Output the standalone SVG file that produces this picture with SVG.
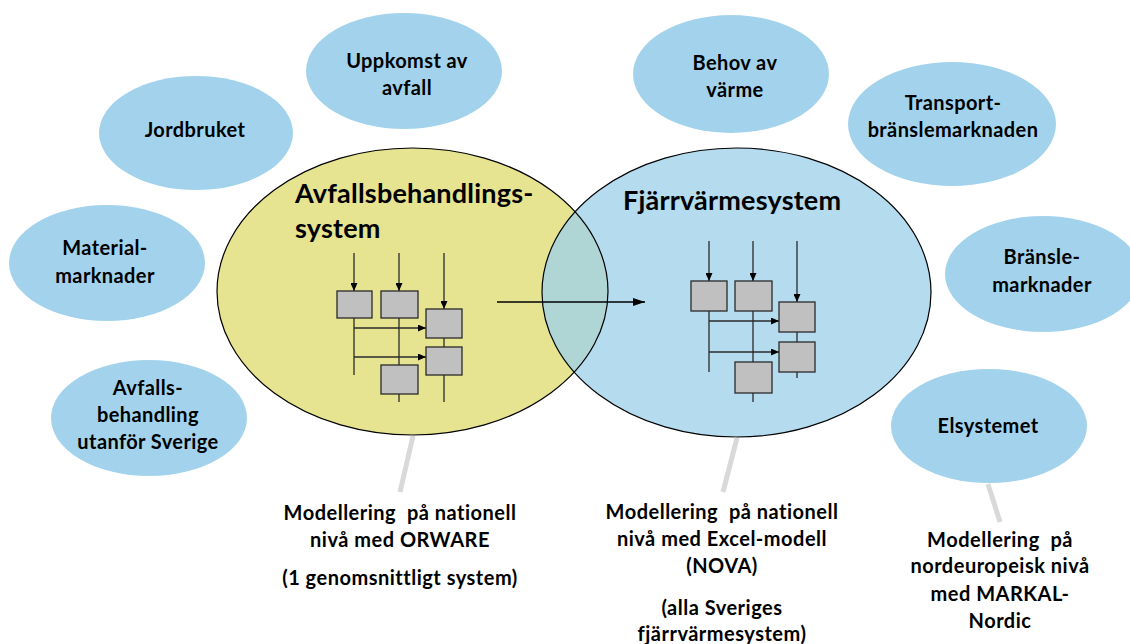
<svg xmlns="http://www.w3.org/2000/svg" width="1130" height="644" viewBox="0 0 1130 644">
  <defs>
    <style>
      .bubble { fill: #a3d3ec; }
      .lbl { font-family: Lato, "Liberation Sans", sans-serif; font-weight: bold; font-size: 20px; letter-spacing: 0.4px; fill: #000; text-anchor: middle; }
      .title { font-family: Lato, "Liberation Sans", sans-serif; font-weight: bold; font-size: 27px; letter-spacing: 0.2px; fill: #000; }
      .note { font-family: Lato, "Liberation Sans", sans-serif; font-weight: bold; font-size: 20px; letter-spacing: 0.5px; fill: #000; text-anchor: middle; white-space: pre; }
      .flow { stroke: #2a2a2a; stroke-width: 1.3; fill: none; }
      .box { fill: #c0c0c0; stroke: #2a2a2a; stroke-width: 1.3; }
      .lead { stroke: #d9d9d9; stroke-width: 5; fill: none; }
      .edge { fill: none; stroke: #000; stroke-width: 1.2; }
    </style>
    <marker id="head" viewBox="0 0 8 7" refX="8" refY="3.5" markerWidth="8" markerHeight="7" markerUnits="userSpaceOnUse" orient="auto">
      <path d="M0,0 L8,3.5 L0,7 z" fill="#000"/>
    </marker>
    <marker id="bighead" viewBox="0 0 12 8" refX="12" refY="4" markerWidth="12" markerHeight="8" markerUnits="userSpaceOnUse" orient="auto">
      <path d="M0,0 L12,4 L0,8 z" fill="#000"/>
    </marker>
    <ellipse id="waste-edge" cx="412.5" cy="291.5" rx="195.5" ry="143.5"/>
  </defs>

  <rect width="1130" height="644" fill="#fff"/>

  <!-- surrounding context bubbles -->
  <g id="uppkomst">
    <ellipse class="bubble" cx="404" cy="71" rx="98" ry="58"/>
    <text class="lbl" x="407" y="68">Uppkomst av</text>
    <text class="lbl" x="407" y="95">avfall</text>
  </g>
  <g id="jordbruket">
    <ellipse class="bubble" cx="196" cy="133" rx="97" ry="57"/>
    <text class="lbl" x="195" y="137">Jordbruket</text>
  </g>
  <g id="materialmarknader">
    <ellipse class="bubble" cx="107" cy="263" rx="98" ry="58"/>
    <text class="lbl" x="105" y="255">Material-</text>
    <text class="lbl" x="105" y="283">marknader</text>
  </g>
  <g id="avfallsbehandling-utland">
    <ellipse class="bubble" cx="149" cy="418" rx="98" ry="58"/>
    <text class="lbl" x="148" y="395">Avfalls-</text>
    <text class="lbl" x="148" y="422">behandling</text>
    <text class="lbl" x="148" y="449">utanför Sverige</text>
  </g>
  <g id="behov">
    <ellipse class="bubble" cx="731" cy="74" rx="98" ry="59"/>
    <text class="lbl" x="735" y="70">Behov av</text>
    <text class="lbl" x="735" y="97">värme</text>
  </g>
  <g id="transport">
    <ellipse class="bubble" cx="952" cy="124" rx="104" ry="62"/>
    <text class="lbl" x="953" y="110">Transport-</text>
    <text class="lbl" x="953" y="137">bränslemarknaden</text>
  </g>
  <g id="bransle">
    <ellipse class="bubble" cx="1043" cy="274" rx="98" ry="58"/>
    <text class="lbl" x="1042" y="264">Bränsle-</text>
    <text class="lbl" x="1042" y="292">marknader</text>
  </g>
  <g id="elsystemet">
    <ellipse class="bubble" cx="989" cy="426" rx="98" ry="57"/>
    <text class="lbl" x="988" y="433">Elsystemet</text>
  </g>

  <!-- waste management system -->
  <g id="avfallssystem">
    <use href="#waste-edge" fill="#e6e391"/>
    <text class="title" x="295" y="203">Avfallsbehandlings-</text>
    <text class="title" x="295" y="238">system</text>
  </g>

  <!-- district heating system (translucent, overlaps the waste system) -->
  <g id="fjarrvarmesystem">
    <ellipse cx="736.5" cy="292.5" rx="194.5" ry="144.5" fill="#9fd0ea" fill-opacity="0.77" stroke="#000" stroke-width="1.2"/>
    <text class="title" x="623" y="210">Fjärrvärmesystem</text>
  </g>
  <use href="#waste-edge" class="edge"/>

  <!-- process schematic inside the waste system -->
  <g id="orware-schema">
    <line class="flow" x1="354" y1="253" x2="354" y2="291" marker-end="url(#head)"/>
    <line class="flow" x1="399" y1="253" x2="399" y2="291" marker-end="url(#head)"/>
    <line class="flow" x1="444" y1="253" x2="444" y2="309" marker-end="url(#head)"/>
    <line class="flow" x1="354" y1="318" x2="354" y2="375"/>
    <line class="flow" x1="399" y1="318" x2="399" y2="402"/>
    <line class="flow" x1="444" y1="338" x2="444" y2="347"/>
    <line class="flow" x1="444" y1="375" x2="444" y2="402"/>
    <line class="flow" x1="354" y1="328" x2="426" y2="328" marker-end="url(#head)"/>
    <line class="flow" x1="354" y1="357" x2="426" y2="357" marker-end="url(#head)"/>
    <rect class="box" x="337" y="291" width="35" height="27"/>
    <rect class="box" x="381" y="291" width="37" height="27"/>
    <rect class="box" x="426" y="309" width="36" height="29"/>
    <rect class="box" x="426" y="347" width="36" height="28"/>
    <rect class="box" x="381" y="365" width="37" height="29"/>
  </g>

  <!-- process schematic inside the district heating system -->
  <g id="nova-schema">
    <line class="flow" x1="709" y1="241" x2="709" y2="281" marker-end="url(#head)"/>
    <line class="flow" x1="753" y1="241" x2="753" y2="281" marker-end="url(#head)"/>
    <line class="flow" x1="797" y1="241" x2="797" y2="302" marker-end="url(#head)"/>
    <line class="flow" x1="709" y1="311" x2="709" y2="372"/>
    <line class="flow" x1="753" y1="311" x2="753" y2="402"/>
    <line class="flow" x1="797" y1="332" x2="797" y2="342"/>
    <line class="flow" x1="797" y1="372" x2="797" y2="378"/>
    <line class="flow" x1="709" y1="321" x2="779" y2="321" marker-end="url(#head)"/>
    <line class="flow" x1="709" y1="352" x2="779" y2="352" marker-end="url(#head)"/>
    <rect class="box" x="691" y="281" width="36" height="30"/>
    <rect class="box" x="735" y="281" width="37" height="30"/>
    <rect class="box" x="779" y="302" width="36" height="30"/>
    <rect class="box" x="779" y="342" width="36" height="30"/>
    <rect class="box" x="735" y="362" width="37" height="31"/>
  </g>

  <!-- connectors -->
  <g id="connectors">
    <line x1="497" y1="302" x2="645" y2="302" stroke="#000" stroke-width="1.3" marker-end="url(#bighead)"/>
    <line class="lead" x1="413" y1="436" x2="400" y2="492"/>
    <line class="lead" x1="737" y1="438" x2="723" y2="492"/>
    <line class="lead" x1="988" y1="484" x2="1000" y2="522"/>
  </g>

  <!-- model descriptions -->
  <g id="orware-note">
    <text class="note" x="400" y="520" xml:space="preserve">Modellering  på nationell</text>
    <text class="note" x="400" y="547">nivå med ORWARE</text>
    <text class="note" x="400" y="585">(1 genomsnittligt system)</text>
  </g>
  <g id="nova-note">
    <text class="note" x="722" y="519" xml:space="preserve">Modellering  på nationell</text>
    <text class="note" x="722" y="546">nivå med Excel-modell</text>
    <text class="note" x="722" y="573">(NOVA)</text>
    <text class="note" x="722" y="615">(alla Sveriges</text>
    <text class="note" x="722" y="641">fjärrvärmesystem)</text>
  </g>
  <g id="markal-note">
    <text class="note" x="1000" y="547" xml:space="preserve">Modellering  på</text>
    <text class="note" x="1000" y="573">nordeuropeisk nivå</text>
    <text class="note" x="1000" y="601">med MARKAL-</text>
    <text class="note" x="1000" y="628">Nordic</text>
  </g>
</svg>
